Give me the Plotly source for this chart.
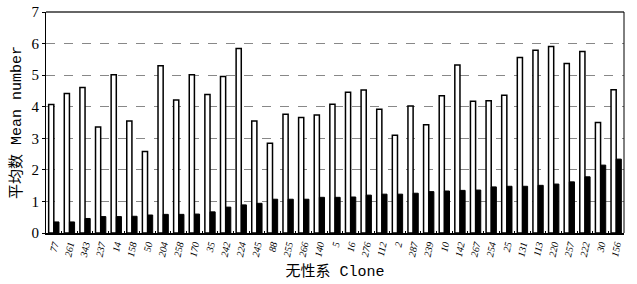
import plotly.graph_objects as go

clones = ["77", "261", "343", "237", "14", "158", "50", "204", "258", "170", "35", "242",
          "224", "245", "88", "255", "266", "140", "5", "16", "276", "112", "2", "287",
          "239", "10", "142", "267", "254", "25", "131", "113", "220", "257", "222", "30", "156"]
white_vals = [4.07, 4.42, 4.61, 3.36, 5.01, 3.55, 2.58, 5.30, 4.21, 5.01, 4.39, 4.96,
              5.84, 3.55, 2.84, 3.76, 3.66, 3.74, 4.08, 4.46, 4.53, 3.92, 3.10, 4.02,
              3.43, 4.35, 5.32, 4.17, 4.19, 4.36, 5.56, 5.79, 5.91, 5.37, 5.75, 3.50, 4.54]
black_vals = [0.35, 0.35, 0.46, 0.52, 0.52, 0.53, 0.57, 0.59, 0.59, 0.60, 0.67, 0.82,
              0.89, 0.94, 1.07, 1.07, 1.07, 1.13, 1.13, 1.14, 1.20, 1.23, 1.23, 1.26,
              1.31, 1.33, 1.35, 1.36, 1.46, 1.48, 1.48, 1.51, 1.55, 1.62, 1.78, 2.15, 2.34]
y_ticks = [0, 1, 2, 3, 4, 5, 6, 7]

fig = go.Figure()
fig.add_trace(go.Bar(x=clones, y=white_vals, marker=dict(color="white", line=dict(color="black", width=1.5)),
                     showlegend=False))
fig.add_trace(go.Bar(x=clones, y=black_vals, marker=dict(color="black", line=dict(color="black", width=1)),
                     showlegend=False))

fig.update_layout(
    width=637, height=284,
    margin=dict(l=46, r=13, t=12, b=51),
    paper_bgcolor="white", plot_bgcolor="white",
    barmode="group", bargap=0.34, bargroupgap=0,
    font=dict(family="Liberation Serif, Noto Sans CJK SC", color="black"),
    xaxis=dict(
        type="category", showgrid=False, showline=True, linecolor="black", linewidth=1.5,
        ticks="inside", tickson="boundaries", ticklen=2, tickcolor="black",
        tickangle=-78, tickfont=dict(size=10, style="italic", family="Liberation Serif"),
        automargin=False,
        title=dict(text="无性系 Clone", font=dict(size=15, family="Liberation Mono, Noto Sans CJK SC"), standoff=8),
    ),
    yaxis=dict(
        range=[0, 7], tickvals=y_ticks, showline=True, linecolor="black", linewidth=1,
        ticks="outside", ticklen=3, tickcolor="black",
        showgrid=True, gridcolor="#888888", griddash="dash", gridwidth=1,
        tickfont=dict(size=15, family="Liberation Serif"),
        automargin=False,
        title=dict(text="平均数 Mean number", font=dict(size=15, family="Liberation Mono, Noto Sans CJK SC"), standoff=6),
        zeroline=False,
    ),
    shapes=[
        dict(type="line", xref="paper", yref="paper", x0=0, x1=1, y0=1, y1=1,
             line=dict(color="#666666", width=2)),
        dict(type="line", xref="paper", yref="paper", x0=1, x1=1, y0=0, y1=1,
             line=dict(color="black", width=1)),
    ],
)

fig.write_html("out.html", config={"displayModeBar": False},
               post_script="document.body.style.margin='0px';")
